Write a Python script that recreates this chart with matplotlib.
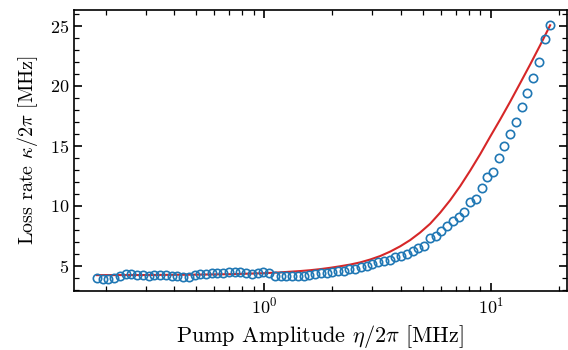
import matplotlib
matplotlib.use("Agg")
import matplotlib.pyplot as plt
from matplotlib.ticker import MultipleLocator

# measured loss rate vs pump amplitude (MHz)
eta = [0.1830, 0.1940, 0.2056, 0.2180, 0.2311, 0.2449, 0.2597, 0.2753, 0.2918, 0.3093,
       0.3279, 0.3475, 0.3684, 0.3905, 0.4139, 0.4388, 0.4651, 0.4931, 0.5227, 0.5540,
       0.5873, 0.6225, 0.6599, 0.6995, 0.7415, 0.7860, 0.8332, 0.8832, 0.9363, 0.9924,
       1.0520, 1.1151, 1.1821, 1.2530, 1.3283, 1.4080, 1.4925, 1.5821, 1.6771, 1.7777,
       1.8846, 1.9976, 2.1175, 2.2447, 2.3793, 2.5221, 2.6738, 2.8342, 3.0043, 3.1847,
       3.3758, 3.5785, 3.7931, 4.0207, 4.2620, 4.5179, 4.7890, 5.0765, 5.3815, 5.7044,
       6.0468, 6.4097, 6.7944, 7.2022, 7.6349, 8.0930, 8.5788, 9.0937, 9.6395, 10.217,
       10.831, 11.482, 12.171, 12.901, 13.675, 14.496, 15.367, 16.289, 17.267, 18.303]
kappa = [4.00, 3.90, 3.88, 4.00, 4.17, 4.28, 4.28, 4.22, 4.20, 4.17,
         4.20, 4.22, 4.20, 4.17, 4.14, 4.08, 4.08, 4.22, 4.33, 4.33,
         4.36, 4.36, 4.42, 4.44, 4.50, 4.47, 4.36, 4.33, 4.36, 4.44,
         4.42, 4.17, 4.11, 4.11, 4.14, 4.17, 4.14, 4.22, 4.30, 4.37,
         4.42, 4.50, 4.53, 4.60, 4.70, 4.75, 4.90, 5.00, 5.14, 5.28,
         5.37, 5.50, 5.70, 5.80, 6.00, 6.25, 6.45, 6.67, 7.35, 7.50,
         7.90, 8.30, 8.75, 9.10, 9.50, 10.30, 10.60, 11.50, 12.40, 12.85,
         13.95, 15.00, 15.95, 17.00, 18.20, 19.37, 20.60, 22.00, 23.85, 25.06]

# model curve
eta_fit = [0.183, 0.3, 0.5, 0.7, 1.0, 1.2, 1.441, 1.596, 1.766, 1.955, 2.164, 2.395,
           2.651, 2.935, 3.249, 3.596, 3.981, 4.406, 4.877, 5.398, 5.975, 6.614,
           7.321, 8.103, 8.970, 9.929, 10.99, 12.17, 13.46, 14.91, 16.50, 18.26]
kappa_fit = [4.22, 4.23, 4.26, 4.30, 4.38, 4.46, 4.56, 4.63, 4.72, 4.83, 4.96, 5.10,
             5.28, 5.52, 5.81, 6.18, 6.62, 7.14, 7.77, 8.50, 9.42, 10.46,
             11.63, 12.92, 14.29, 15.75, 17.18, 18.67, 20.20, 21.77, 23.37, 25.03]

plt.rcParams["font.family"] = "serif"
plt.rcParams["font.serif"] = ["cmr10"]
plt.rcParams["mathtext.fontset"] = "cm"
plt.rcParams["axes.formatter.use_mathtext"] = True
plt.rcParams["axes.unicode_minus"] = False

fig = plt.figure(figsize=(5.68, 3.5), dpi=100)
ax = fig.add_axes([0.1303, 0.1686, 0.8674, 0.8028])

ax.plot(eta_fit, kappa_fit, color="#d62728", lw=1.5, zorder=2)
ax.plot(eta, kappa, "o", mfc="none", mec="#1f77b4", mew=1.2, ms=6, zorder=3)

ax.set_xscale("log")
ax.set_xlim(0.145, 21.6)
ax.set_ylim(2.9, 26.3)
ax.yaxis.set_major_locator(MultipleLocator(5))
ax.yaxis.set_minor_locator(MultipleLocator(1))

ax.tick_params(which="both", direction="in", top=True, right=True, labelsize=13)
ax.tick_params(which="major", length=6, width=1.2)
ax.tick_params(which="minor", length=3.5, width=0.9)
for s in ax.spines.values():
    s.set_linewidth(1.2)

ax.set_xlabel(r"Pump Amplitude $\eta/2\pi$ [MHz]", fontsize=16, labelpad=5)
ax.set_ylabel(r"Loss rate $\kappa/2\pi$ [MHz]", fontsize=14.5, labelpad=7)

fig.savefig("out.png", dpi=100)
